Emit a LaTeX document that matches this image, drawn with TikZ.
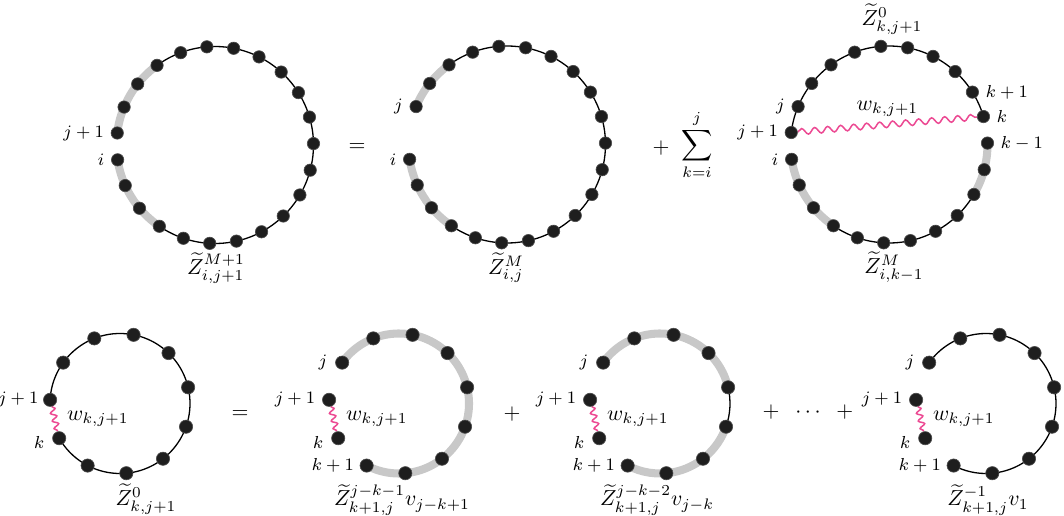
\documentclass[tikz,border=0pt]{standalone}
\usepackage{amsmath,amssymb}
\usepackage{xcolor}
\usepackage{tikz}
\usetikzlibrary{positioning,decorations.pathmorphing,backgrounds}
\definecolor{beadfill}{HTML}{1E1E1E}
\definecolor{bandgray}{HTML}{C8C8C8}
\definecolor{photonpink}{HTML}{EC4A93}

\begin{document}
\begin{tikzpicture}[
  x=0.46pt,y=0.46pt,
  bead/.style={circle,fill=beadfill,draw=black!70,line width=0.3pt,inner sep=0pt,minimum size=5.7pt},
  bigbead/.style={bead,minimum size=6.1pt},
  idx/.style={font=\footnotesize,inner sep=0.5pt},
  ring/.style={line width=0.6pt},
  band/.style={line width=3.7pt,draw=bandgray},
  wavy/.style={draw=photonpink,line width=0.7pt,decorate,
    decoration={snake,amplitude=1.4pt,segment length=6pt}},
  shortwavy/.style={wavy,decoration={snake,amplitude=1.3pt,segment length=3.6pt}}
]
\useasboundingbox (0,0) rectangle (1064,515);
\def\ra{98.5} \def\rb{70}
\def\sa{15.652} \def\sb{32.727}

% ring centres
\coordinate (cA) at (215,370);
\coordinate (cB) at (507,370.5);
\coordinate (cC) at (889,370.5);
\coordinate (cD) at (120,111.5);
\coordinate (cE) at (399,111.5);
\coordinate (cF) at (660,111.5);
\coordinate (cG) at (986,111.5);

% beads
\foreach \m in {0,...,22}{
  \node[bead] (A\m) at ([shift={(173-\m*\sa:\ra)}]cA) {};
  \node[bead] (C\m) at ([shift={(173-\m*\sa:\ra)}]cC) {};
}
\foreach \m in {1,...,22}
  \node[bead] (B\m) at ([shift={(173-\m*\sa:\ra)}]cB) {};
\foreach \r in {D,E,F,G}
  \foreach \m in {0,...,10}
    \node[bigbead] (\r\m) at ([shift={(177-\m*\sb:\rb)}]c\r) {};

\begin{scope}[on background layer]
% top row
\draw[band] (A0.center) arc[start angle=173, delta angle=-3*\sa, radius=\ra];
\draw[ring] (A3.center) arc[start angle=173-3*\sa, delta angle=-16*\sa, radius=\ra];
\draw[band] (A19.center) arc[start angle=173-19*\sa, delta angle=-3*\sa, radius=\ra];
\draw[band] (B1.center) arc[start angle=173-\sa, delta angle=-2*\sa, radius=\ra];
\draw[ring] (B3.center) arc[start angle=173-3*\sa, delta angle=-16*\sa, radius=\ra];
\draw[band] (B19.center) arc[start angle=173-19*\sa, delta angle=-3*\sa, radius=\ra];
\draw[ring] (C0.center) arc[start angle=173, delta angle=-10*\sa, radius=\ra];
\draw[band] (C11.center) arc[start angle=173-11*\sa, delta angle=-2*\sa, radius=\ra];
\draw[ring] (C13.center) arc[start angle=173-13*\sa, delta angle=-6*\sa, radius=\ra];
\draw[band] (C19.center) arc[start angle=173-19*\sa, delta angle=-3*\sa, radius=\ra];
% bottom row
\draw[ring] (D0.center) arc[start angle=177, delta angle=-10*\sb, radius=\rb];
\draw[band] (E1.center) arc[start angle=177-\sb, delta angle=-8*\sb, radius=\rb];
\draw[band] (F1.center) arc[start angle=177-\sb, delta angle=-4*\sb, radius=\rb];
\draw[ring] (F5.center) arc[start angle=177-5*\sb, delta angle=-\sb, radius=\rb];
\draw[band] (F6.center) arc[start angle=177-6*\sb, delta angle=-3*\sb, radius=\rb];
\draw[ring] (G1.center) arc[start angle=177-\sb, delta angle=-8*\sb, radius=\rb];
% photon lines
\draw[wavy] (C0) -- (C10) node[midway,above=0pt] (wC) {$w_{k,j+1}$};
\draw[shortwavy] (D0) -- (D10) node[midway,right=2pt] (wD) {$w_{k,j+1}$};
\draw[shortwavy] (E0) -- (E10) node[midway,right=2pt] (wE) {$w_{k,j+1}$};
\draw[shortwavy] (F0) -- (F10) node[midway,right=2pt] (wF) {$w_{k,j+1}$};
\draw[shortwavy] (G0) -- (G10) node[midway,right=2pt] (wG) {$w_{k,j+1}$};
\end{scope}

% index labels
\node[idx,left=2.5pt of A0] (A0l) {$j+1$};
\node[idx,left=2.5pt of A22] (A22l) {$i$};
\node[idx,left=2.5pt of B1] (B1l) {$j$};
\node[idx,left=2.5pt of B22] (B22l) {$i$};
\node[idx,left=2.5pt of C1] (C1l) {$j$};
\node[idx,left=2.5pt of C0] (C0l) {$j+1$};
\node[idx,left=2.5pt of C22] (C22l) {$i$};
\node[idx,right=2.5pt of C9] (C9l) {$k+1$};
\node[idx,right=2.5pt of C10] (C10l) {$k$};
\node[idx,right=2.5pt of C11] (C11l) {$k-1$};
\node[idx,left=1.5pt of D0] (D0l) {$j+1$};
\node[idx,left=3pt of D10,yshift=-2pt] (D10l) {$k$};
\foreach \r in {E,F,G}{
  \node[idx,left=3pt of \r1] (\r1l) {$j$};
  \node[idx,left=2.5pt of \r0] (\r0l) {$j+1$};
  \node[idx,left=3pt of \r10,yshift=-2pt] (\r10l) {$k$};
  \node[idx,left=2pt of \r9] (\r9l) {$k+1$};
}

% names of the rings
\node (ZA) at (216,247) {$\widetilde{Z}^{M+1}_{i,j+1}$};
\node (ZB) at (506,247) {$\widetilde{Z}^{M}_{i,j}$};
\node (ZCtop) at (892,496) {$\widetilde{Z}^{0}_{k,j+1}$};
\node (ZCbot) at (894,248) {$\widetilde{Z}^{M}_{i,k-1}$};
\node (ZD) at (146,16) {$\widetilde{Z}^{0}_{k,j+1}$};
\node (ZE) at (402,15) {$\widetilde{Z}^{j-k-1}_{k+1,j}v_{j-k+1}$};
\node (ZF) at (657,15) {$\widetilde{Z}^{j-k-2}_{k+1,j}v_{j-k}$};
\node (ZG) at (988,15) {$\widetilde{Z}^{-1}_{k+1,j}v_{1}$};

% operators
\node (eqtop) at (357,367) {$=$};
\node (plustop) at (661,367) {$+$};
\node (sumtop) at (697,370) {$\displaystyle\sum_{k=i}^{j}$};
\node (eqbot) at (240,100) {$=$};
\node (plusbot) at (512,101) {$+$};
\node (dotsbot) at (808,103) {$+\;\;\cdots\;\;+$};
\end{tikzpicture}
\end{document}
